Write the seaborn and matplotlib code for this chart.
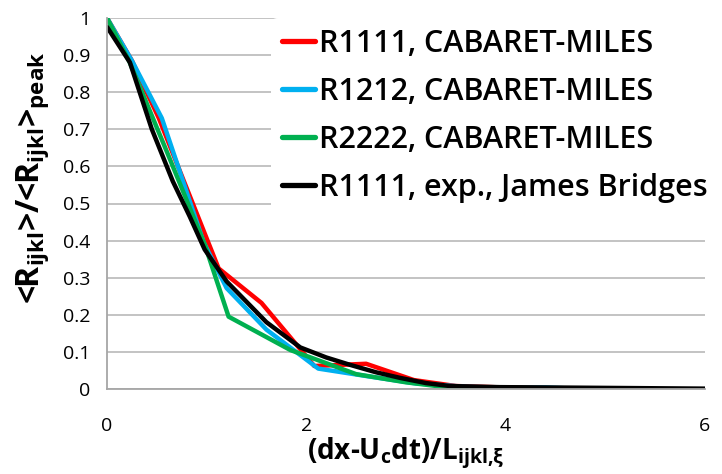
import matplotlib
matplotlib.use("Agg")
import matplotlib.pyplot as plt
import seaborn as sns
import pandas as pd

# ---- data ----
red_x = [0, 0.25, 0.52, 1.12, 1.55, 2.08, 2.6, 3.08, 3.5, 4.0, 4.5]
red_y = [1.0, 0.885, 0.73, 0.325, 0.232, 0.062, 0.068, 0.024, 0.008, 0.004, 0.002]

blue_x = [0, 0.25, 0.55, 0.97, 1.2, 1.6, 2.12, 2.6, 3.1, 3.6, 4.1, 4.4, 4.7]
blue_y = [1.0, 0.885, 0.73, 0.395, 0.272, 0.16, 0.055, 0.035, 0.015, 0.006, 0.003, 0.004, 0.001]

green_x = [0, 0.22, 0.6, 0.98, 1.22, 1.84, 2.5, 3.0, 3.4, 4.0, 4.5]
green_y = [1.0, 0.885, 0.64, 0.39, 0.195, 0.105, 0.04, 0.018, 0.005, 0.003, 0.001]

black_x = [0, 0.23, 0.45, 0.66, 0.83, 0.98, 1.2, 1.4, 1.6, 1.94, 2.2, 2.44, 2.7,
           2.94, 3.2, 3.44, 3.94, 4.5, 5.0, 5.5, 6.0]
black_y = [0.976, 0.88, 0.70, 0.56, 0.465, 0.376, 0.29, 0.235, 0.18, 0.112, 0.085,
           0.065, 0.045, 0.03, 0.016, 0.008, 0.005, 0.004, 0.003, 0.002, 0.001]

series_names = ["R1111, CABARET-MILES", "R1212, CABARET-MILES",
                "R2222, CABARET-MILES", "R1111, exp., James Bridges"]
series_colors = ["#FF0000", "#00B0F0", "#00B050", "#000000"]

x_ticks = [0, 2, 4, 6]
y_ticks = [0, 0.1, 0.2, 0.3, 0.4, 0.5, 0.6, 0.7, 0.8, 0.9, 1.0]
y_tick_labels = ["0", "0.1", "0.2", "0.3", "0.4", "0.5", "0.6", "0.7", "0.8", "0.9", "1"]

frames = []
for name, xs, ys in zip(series_names,
                        [red_x, blue_x, green_x, black_x],
                        [red_y, blue_y, green_y, black_y]):
    frames.append(pd.DataFrame({"x": xs, "y": ys, "series": name}))
df = pd.concat(frames, ignore_index=True)

sns.set_theme(style="white")
plt.rcParams["font.family"] = ["Open Sans", "DejaVu Sans"]
plt.rcParams["text.color"] = "black"
plt.rcParams["axes.labelcolor"] = "black"
plt.rcParams["mathtext.fontset"] = "custom"
plt.rcParams["mathtext.rm"] = "Open Sans:bold"
plt.rcParams["mathtext.it"] = "Open Sans:bold"
plt.rcParams["mathtext.bf"] = "Open Sans:bold"

fig = plt.figure(figsize=(7.22, 4.74), dpi=100)
ax = fig.add_axes([107 / 722, 1 - 389 / 474, (705 - 107) / 722, (389 - 18) / 474])

sns.lineplot(data=df, x="x", y="y", hue="series", hue_order=series_names,
             palette=series_colors, linewidth=3.2, sort=False, estimator=None,
             ax=ax)

ax.set_xlim(0, 6)
ax.set_ylim(0, 1)
ax.set_xticks(x_ticks)
ax.set_xticklabels([str(t) for t in x_ticks])
ax.set_yticks(y_ticks)
ax.set_yticklabels(y_tick_labels)
ax.yaxis.grid(True, color="#BEBEBE", linewidth=1.3)
ax.set_axisbelow(True)

for s in ["top", "right"]:
    ax.spines[s].set_visible(False)
for s in ["left", "bottom"]:
    ax.spines[s].set_color("#A6A6A6")
    ax.spines[s].set_linewidth(1.3)

ax.tick_params(axis="both", which="major", direction="out", length=8, width=1.3,
               color="#A6A6A6", labelsize=14, labelcolor="#000000", pad=4)
ax.tick_params(axis="x", pad=12)

ax.set_xlabel(r"(dx-U$_{c}$dt)/L$_{ijkl{,}ξ}$", fontsize=20, fontweight="bold",
              color="black")
ax.xaxis.set_label_coords(0.5, -0.125)
ax.set_ylabel(r"<R$_{ijkl}$>/<R$_{ijkl}$>$_{peak}$", fontsize=23, fontweight="bold",
              color="black")
ax.yaxis.set_label_coords(-0.093, 0.57)

leg = ax.legend(loc="upper left", bbox_to_anchor=(0.275, 0.999), frameon=True,
                fontsize=22, handlelength=1.08, handletextpad=0.13,
                labelspacing=0.59, borderaxespad=0.0, borderpad=0.35)
leg.get_frame().set_facecolor("white")
leg.get_frame().set_edgecolor("none")
leg.get_frame().set_alpha(1.0)
for t in leg.get_texts():
    t.set_fontweight("semibold")
    t.set_color("black")
for h in leg.get_lines():
    h.set_linewidth(3.8)

fig.savefig("out.png", dpi=100)
